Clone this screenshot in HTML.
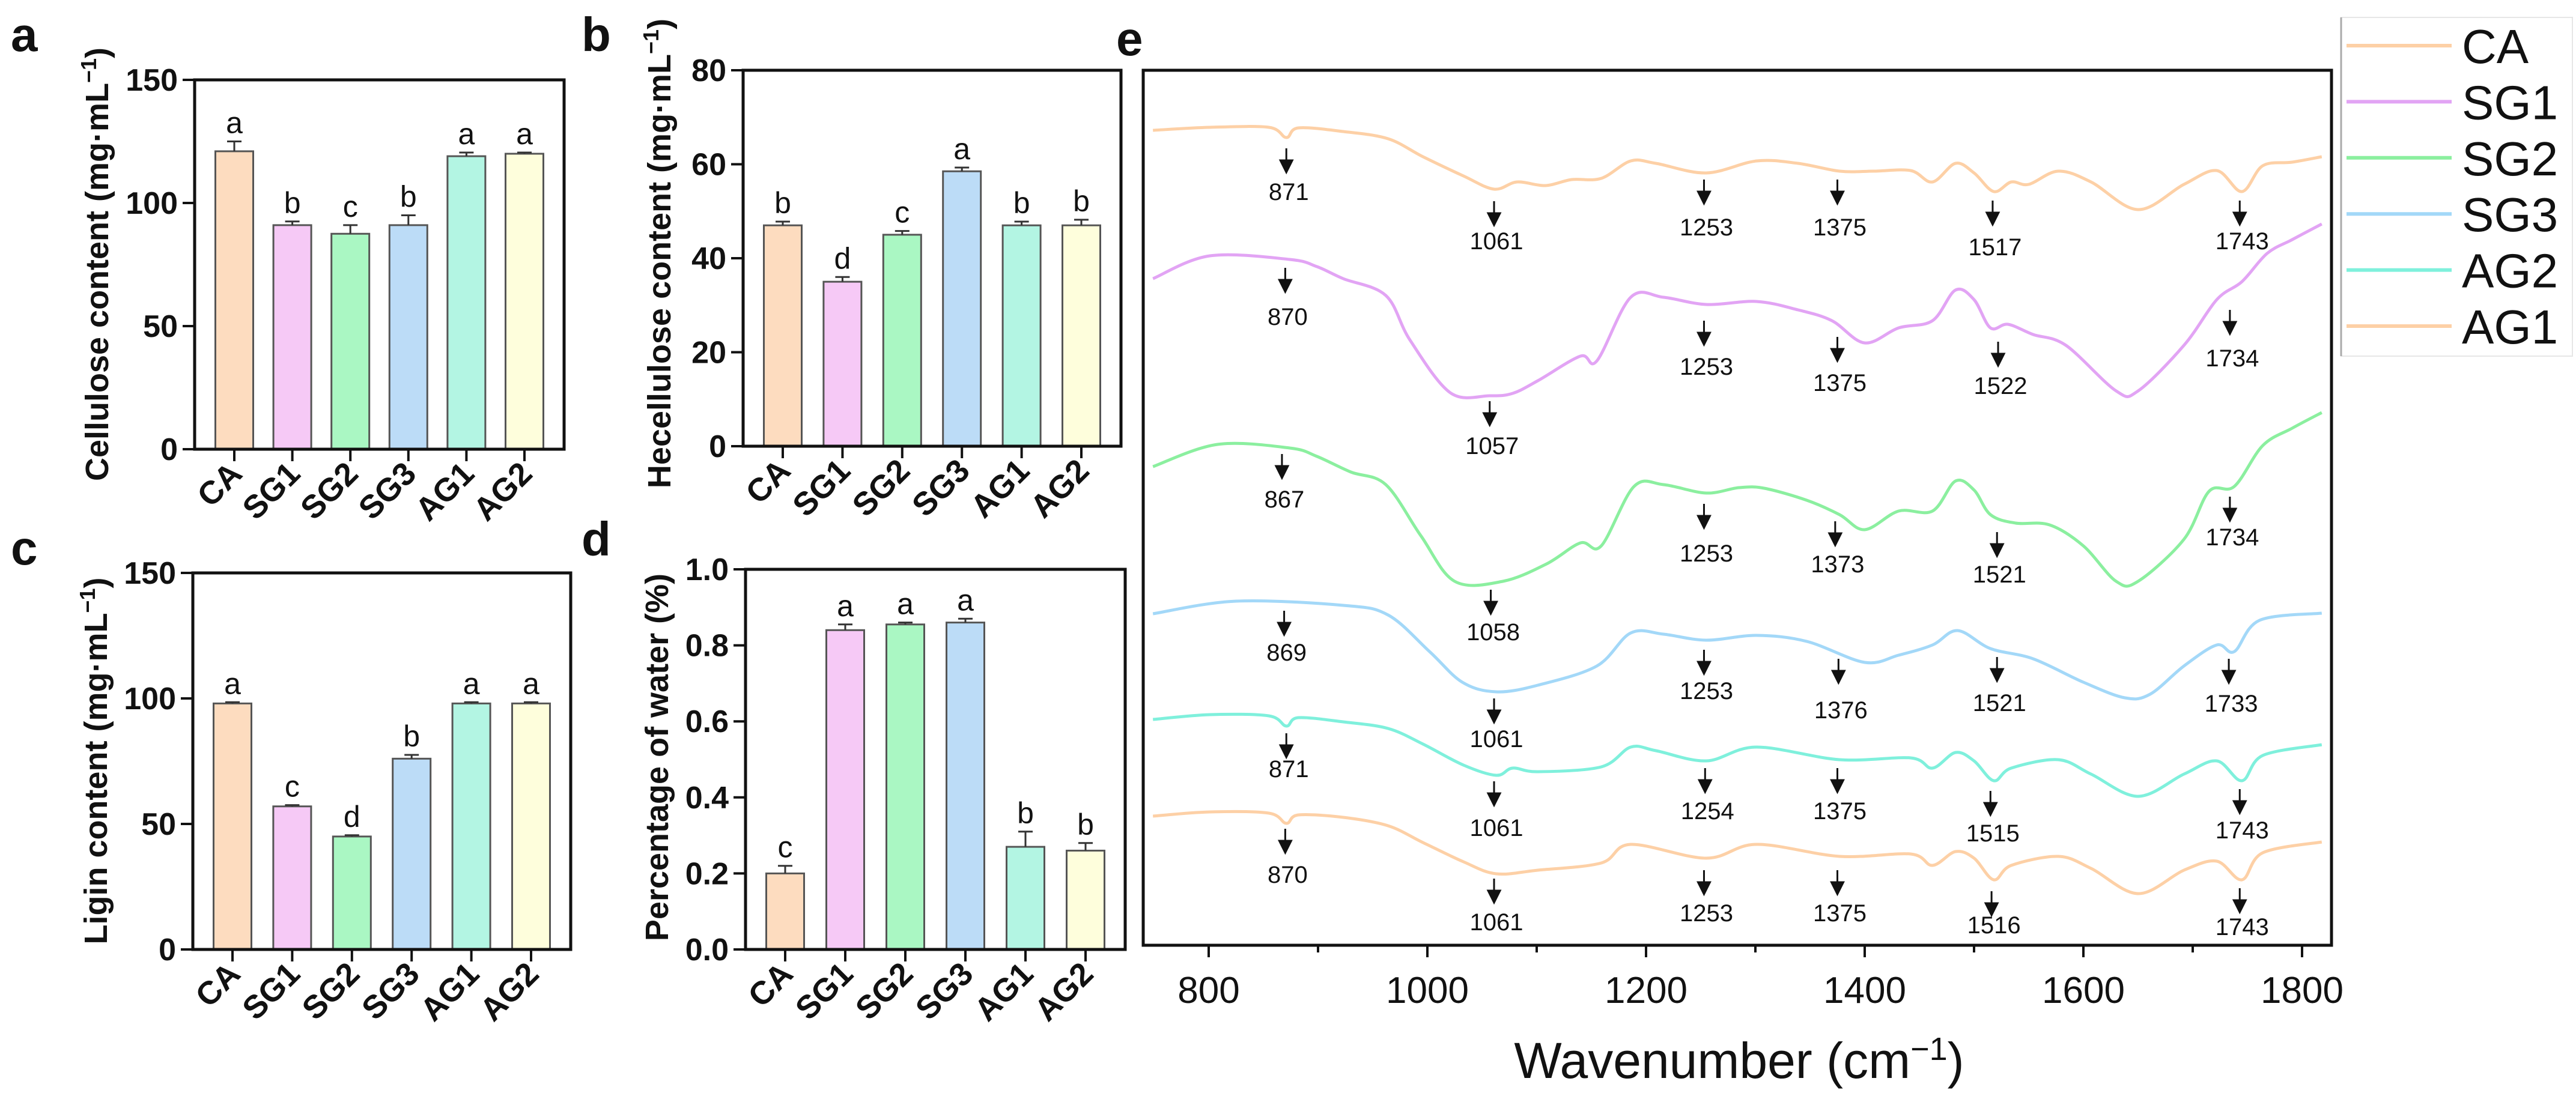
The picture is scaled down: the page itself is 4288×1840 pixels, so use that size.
<!DOCTYPE html>
<html><head><meta charset="utf-8"><style>
html,body{margin:0;padding:0;background:#fff;}
svg{display:block;}
text{font-family:"Liberation Sans",Arial,sans-serif;}
</style></head><body>
<svg id="fig" width="4288" height="1840" viewBox="0 0 4288 1840" xmlns="http://www.w3.org/2000/svg"></svg>
<script>
// ---------- bar chart data ----------
const groups = ["CA","SG1","SG2","SG3","AG1","AG2"];
const barColors = ["#fddcbf","#f6c9f6","#aaf7c3","#bcdcf7","#b3f5e3","#fefedc"];
const celluloseVals = [121,91,87.5,91,119,120];
const celluloseErr = [4,1.5,3.5,4,1.5,0.5];
const celluloseLetters = ["a","b","c","b","a","a"];
const hemiVals = [47,35,45,58.5,47,47];
const hemiErr = [0.8,1,0.8,0.8,0.8,1.2];
const hemiLetters = ["b","d","c","a","b","b"];
const ligninVals = [98,57,45,76,98,98];
const ligninErr = [0.5,0.5,0.5,1.5,0.5,0.5];
const ligninLetters = ["a","c","d","b","a","a"];
const waterVals = [0.2,0.84,0.855,0.86,0.27,0.26];
const waterErr = [0.02,0.015,0.005,0.01,0.04,0.02];
const waterLetters = ["c","a","a","a","b","b"];
const ticksA = [0,50,100,150];
const ticksB = [0,20,40,60,80];
const ticksC = [0,50,100,150];
const ticksD = [0,0.2,0.4,0.6,0.8,1.0];

// ---------- FTIR data (a.u.) ----------
const caWn = [749,801,855,871,882,923,964,996,1033,1061,1082,1108,1132,1159,1186,1209,1255,1301,1339,1377,1408,1442,1462,1483,1500,1518,1534,1550,1577,1607,1650,1692,1722,1745,1764,1791,1818];
const caT = [138.3,138.8,138.8,137.1,138.7,138.1,136.9,133.9,130.7,128.5,129.7,129.1,130.1,130.3,133.2,132.8,131.2,133.2,132.8,131.5,131.5,131.6,129.7,132.8,131.2,128.1,129.7,129.3,131.5,129.7,125.1,129.3,131.6,128.1,132.4,133.0,133.9];
const sg1Wn = [749,801,874,899,923,962,984,1021,1057,1078,1101,1140,1155,1186,1216,1255,1301,1339,1370,1400,1431,1462,1483,1500,1515,1531,1554,1584,1630,1650,1692,1722,1745,1768,1791,1818];
const sg1T = [113.6,117.4,116.8,115.6,113.6,110.8,103.4,94.6,94.1,94.5,96.6,100.7,99.9,110.5,110.5,109.3,109.8,108.4,106.6,102.9,105.4,106.6,111.7,110.1,105.4,106.0,104.3,102.5,94.9,94.9,102.5,110.1,113.1,117.8,120.1,122.7];
const sg2Wn = [749,808,874,899,930,962,994,1025,1069,1109,1140,1159,1189,1216,1255,1285,1308,1347,1377,1400,1431,1462,1483,1500,1515,1538,1569,1600,1630,1650,1692,1715,1738,1764,1791,1818];
const sg2T = [82.3,86.0,85.4,84.0,81.4,79.3,70.8,63.2,63.2,66.1,69.6,69.1,79.0,79.3,77.9,78.8,78.7,76.7,74.3,71.8,74.9,74.9,79.9,78.4,74.3,72.9,72.6,69.1,63.2,63.2,70.2,78.2,79.0,85.8,88.7,91.3];
const sg3Wn = [749,825,923,964,1002,1032,1063,1101,1155,1186,1216,1255,1301,1347,1400,1431,1462,1485,1515,1554,1600,1638,1661,1692,1722,1738,1761,1818];
const sg3T = [57.8,59.9,59.2,57.6,51.5,46.4,44.8,45.9,49.1,54.6,54.4,53.4,54.2,53.2,49.7,50.9,52.6,55.0,52.0,50.3,46.4,43.8,44.4,49.1,52.6,51.5,56.7,57.9];
const ag2Wn = [749,801,855,871,882,923,964,996,1033,1063,1078,1101,1159,1186,1209,1255,1301,1377,1442,1462,1483,1500,1518,1534,1577,1607,1650,1692,1722,1745,1764,1818];
const ag2T = [40.2,41.0,40.8,39.1,40.5,39.8,38.7,36.1,32.6,30.9,32.1,31.5,32.3,35.6,35.0,33.3,35.6,33.5,33.8,32.1,34.7,33.3,30.0,32.1,33.5,31.1,27.4,31.1,33.3,30.0,34.2,36.0];
const ag1Wn = [749,801,855,871,882,923,964,996,1033,1063,1101,1159,1186,1255,1301,1377,1442,1462,1483,1500,1518,1534,1577,1607,1650,1692,1722,1745,1764,1818];
const ag1T = [24.1,24.8,24.6,22.9,24.3,23.9,22.5,19.7,16.5,14.5,15.1,16.3,19.4,17.1,19.4,17.4,17.8,15.9,18.2,17.1,13.5,15.9,17.4,15.4,11.2,15.1,16.6,13.5,18.0,19.8];
const xTicks = [800,1000,1200,1400,1600,1800];
// annotation peaks: [wavenumber, arrow top (a.u.), label (a.u.)]
const caPeaks = [[871,135.3,128.1],[1061,126.5,119.9],[1253,130.1,122.2],[1375,130.1,122.2],[1517,126.6,118.9],[1743,126.6,119.9]];
const sg1Peaks = [[870,115.4,107.3],[1057,93.2,85.8],[1253,106.6,99.0],[1375,103.9,96.3],[1522,103.1,95.8],[1734,108.4,100.4]];
const sg2Peaks = [[867,84.4,76.9],[1058,61.8,54.8],[1253,76.1,67.9],[1373,73.2,66.1],[1521,71.4,64.4],[1734,77.3,70.6]];
const sg3Peaks = [[869,58.3,51.4],[1061,43.7,37.0],[1253,51.8,45.0],[1376,50.3,41.8],[1521,50.6,43.0],[1733,50.3,42.9]];
const ag2Peaks = [[871,37.9,32.0],[1061,29.9,22.2],[1254,32.1,25.0],[1375,32.1,25.0],[1515,28.3,21.3],[1743,28.6,21.8]];
const ag1Peaks = [[870,22.0,14.4],[1061,13.7,6.5],[1253,15.1,8.0],[1375,15.1,8.0],[1516,11.6,6.0],[1743,12.1,5.7]];

const NS = "http://www.w3.org/2000/svg";
const svg = document.getElementById("fig");
function mk(tag, attrs, parent){
  const e = document.createElementNS(NS, tag);
  for (const k in attrs) e.setAttribute(k, attrs[k]);
  (parent||svg).appendChild(e);
  return e;
}
function txt(str, attrs, parent){ const t = mk("text", attrs, parent); t.textContent = str; return t; }

function barPanel(cfg){
  const g = mk("g", {});
  
  
  const {L,R,T,B,max} = cfg;
  const yS = v => B - (v/max)*(B-T);
  const pad = 66, step = (R-L-2*pad)/5, bw = 63;
  const xS = i => L + pad + i*step;
  cfg.vals.forEach((v,i)=>{
    const x = xS(i), y = yS(v);
    const r = mk("rect",{x:x-bw/2,y:y,width:bw,height:B-y,fill:barColors[i],stroke:"#555","stroke-width":3},g);
    
    
    const ye = yS(v+cfg.err[i]);
    const eb = mk("path",{d:`M${x} ${y} V${ye} M${x-12} ${ye} H${x+12}`,stroke:"#333","stroke-width":3,fill:"none"},g);
    
    
    const lt = txt(cfg.letters[i],{x:x,y:ye-14,"font-size":50,"text-anchor":"middle",fill:"#111"},g);
    
    
    mk("line",{x1:x,y1:B,x2:x,y2:B+20,stroke:"#111","stroke-width":4},g);
    const xl = txt(groups[i],{x:0,y:0,"font-size":54,"font-weight":"bold","text-anchor":"end",transform:`translate(${x+16},${B+44}) rotate(-45)`,fill:"#111"},g);
    
    
  });
  cfg.ticks.forEach(t=>{
    const y = yS(t);
    mk("line",{x1:L-20,y1:y,x2:L,y2:y,stroke:"#111","stroke-width":4},g);
    const tl = txt(cfg.fmt(t),{x:L-28,y:y+18,"font-size":52,"font-weight":"bold","text-anchor":"end",fill:"#111"},g);
    
    
  });
  const fr = mk("rect",{x:L,y:T,width:R-L,height:B-T,fill:"none",stroke:"#111","stroke-width":5},g);
  
  
  const yt = mk("text",{x:0,y:0,"font-size":54,"font-weight":"bold","text-anchor":"middle",transform:`translate(${cfg.tx},${cfg.ty}) rotate(-90)`,fill:"#111"},g);
  yt.innerHTML = cfg.title;
  
  
  const pl = txt(cfg.letter,{x:cfg.lx,y:cfg.ly,"font-size":80,"font-weight":"bold",fill:"#111"},g);
  
  
}
const unit = 'content (mg·mL<tspan baseline-shift="super" font-size="36">−1</tspan>)';
barPanel({name:"panel-a-cellulose",L:324,R:939,T:133,B:748,max:150,vals:celluloseVals,err:celluloseErr,letters:celluloseLetters,ticks:ticksA,fmt:t=>String(t),title:"Cellulose "+unit,tx:180,ty:440,letter:"a",lx:18,ly:85});
barPanel({name:"panel-b-hemicellulose",L:1237,R:1866,T:117,B:743,max:80,vals:hemiVals,err:hemiErr,letters:hemiLetters,ticks:ticksB,fmt:t=>String(t),title:"Hecellulose "+unit,tx:1116,ty:422,letter:"b",lx:968,ly:85});
barPanel({name:"panel-c-lignin",L:321,R:950,T:954,B:1581,max:150,vals:ligninVals,err:ligninErr,letters:ligninLetters,ticks:ticksC,fmt:t=>String(t),title:"Ligin "+unit,tx:178,ty:1267,letter:"c",lx:18,ly:940});
barPanel({name:"panel-d-water",L:1241,R:1873,T:948,B:1581,max:1.0,vals:waterVals,err:waterErr,letters:waterLetters,ticks:ticksD,fmt:t=>t.toFixed(1),title:"Percentage of water (%)",tx:1112,ty:1261,letter:"d",lx:968,ly:925});

// ---------- FTIR panel ----------
const E = {L:1903,R:3881,T:117,B:1574};
const ex = w => 2012 + (w-800)*1.82;
const ey = v => 1600 - v*10;
const ge = mk("g",{});


function smooth(pts){
  let d = `M${pts[0][0]} ${pts[0][1]}`;
  for (let i=0;i<pts.length-1;i++){
    const p0=pts[Math.max(0,i-1)],p1=pts[i],p2=pts[i+1],p3=pts[Math.min(pts.length-1,i+2)];
    const c1x=p1[0]+(p2[0]-p0[0])/6,c1y=p1[1]+(p2[1]-p0[1])/6;
    const c2x=p2[0]-(p3[0]-p1[0])/6,c2y=p2[1]-(p3[1]-p1[1])/6;
    d+=` C${c1x.toFixed(1)} ${c1y.toFixed(1)} ${c2x.toFixed(1)} ${c2y.toFixed(1)} ${p2[0].toFixed(1)} ${p2[1].toFixed(1)}`;
  }
  return d;
}
const series = [
  {n:"ca",wn:caWn,t:caT,c:"#fdd0a6",pk:caPeaks},
  {n:"sg1",wn:sg1Wn,t:sg1T,c:"#e2a4f4",pk:sg1Peaks},
  {n:"sg2",wn:sg2Wn,t:sg2T,c:"#8bef9f",pk:sg2Peaks},
  {n:"sg3",wn:sg3Wn,t:sg3T,c:"#a3d8f8",pk:sg3Peaks},
  {n:"ag2",wn:ag2Wn,t:ag2T,c:"#7ff0dc",pk:ag2Peaks},
  {n:"ag1",wn:ag1Wn,t:ag1T,c:"#fdd0a6",pk:ag1Peaks}
];
series.forEach(s=>{
  const pts = s.wn.map((w,i)=>[ex(w),ey(s.t[i])]);
  const p = mk("path",{d:smooth(pts),fill:"none",stroke:s.c,"stroke-width":5,"stroke-linejoin":"round"},ge);
  
  
  s.pk.forEach(k=>{
    const x = ex(k[0]), y0 = ey(k[1]), y1 = y0+40;
    const a = mk("path",{d:`M${x} ${y0} V${y1-18} M${x-10} ${y1-20} L${x+10} ${y1-20} L${x} ${y1} Z`,stroke:"#111","stroke-width":3,fill:"#111"},ge);
    
    
    const l = txt(String(k[0]),{x:x+4,y:ey(k[2])+14,"font-size":40,"text-anchor":"middle",fill:"#111"},ge);
    
    
  });
});
for (let w=900; w<=1700; w+=200){
  mk("line",{x1:ex(w),y1:E.B,x2:ex(w),y2:E.B+12,stroke:"#111","stroke-width":4},ge);
}
xTicks.forEach(w=>{
  mk("line",{x1:ex(w),y1:E.B,x2:ex(w),y2:E.B+20,stroke:"#111","stroke-width":4},ge);
  const t = txt(String(w),{x:ex(w),y:1670,"font-size":62,"text-anchor":"middle",fill:"#111"},ge);
  
  
});
const ef = mk("rect",{x:E.L,y:E.T,width:E.R-E.L,height:E.B-E.T,fill:"none",stroke:"#111","stroke-width":5},ge);


const xt = mk("text",{x:2895,y:1795,"font-size":84,"text-anchor":"middle",fill:"#111"},ge);
xt.innerHTML = 'Wavenumber (cm<tspan baseline-shift="super" font-size="54">−1</tspan>)';


const el = txt("e",{x:1858,y:92,"font-size":80,"font-weight":"bold",fill:"#111"},ge);



// legend
const lg = mk("g",{});


mk("rect",{x:3897,y:29,width:385,height:564,fill:"#fff",stroke:"#e6e6e6","stroke-width":2},lg);
mk("line",{x1:3897,y1:29,x2:3897,y2:593,stroke:"#aaa","stroke-width":3},lg);
const legNames = ["CA","SG1","SG2","SG3","AG2","AG1"];
const legCols = ["#fdd0a6","#e2a4f4","#8bef9f","#a3d8f8","#7ff0dc","#fdd0a6"];
legNames.forEach((n,i)=>{
  const y = 76 + i*93.4;
  const e = mk("g",{},lg);
  
  
  mk("line",{x1:3906,y1:y,x2:4081,y2:y,stroke:legCols[i],"stroke-width":6},e);
  txt(n,{x:4098,y:y+29,"font-size":80,fill:"#111"},e);
});
</script>
</body></html>
